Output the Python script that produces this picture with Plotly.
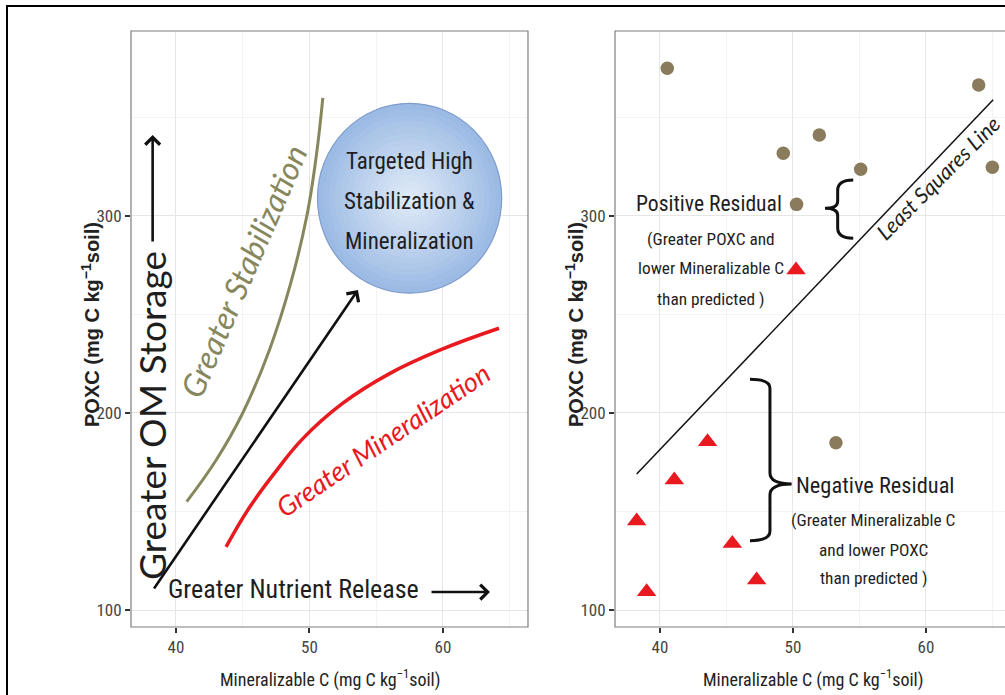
import plotly.graph_objects as go

W, H = 1005, 695

# ---------------- data ----------------
# Left panel: schematic curves
stab_x = [40.8, 43.0, 45.0, 47.0, 48.6, 49.8, 50.5, 51.0]
stab_y = [155, 176, 200, 232, 266, 300, 330, 360]
miner_x = [43.75, 45.5, 47.5, 49.5, 52.5, 56.0, 59.8, 64.2]
miner_y = [132, 152, 170.5, 187, 205, 220, 232, 243]

# Right panel: observations
pos_x = [40.55, 49.27, 51.98, 55.09, 50.27, 63.96, 64.99, 53.23]
pos_y = [375.0, 331.8, 341.1, 323.7, 305.9, 366.5, 324.7, 184.9]
neg_x = [50.23, 43.58, 41.08, 38.25, 45.44, 47.27, 39.0]
neg_y = [272.6, 185.4, 166.0, 145.2, 133.8, 115.2, 109.3]
ls_x = [38.25, 65.05]
ls_y = [169, 359]

x_ticks = [40, 50, 60]
y_ticks = [100, 200, 300]
x_title = "Mineralizable C (mg C kg<sup>\u22121</sup>soil)"
y_title = "POXC (mg C kg<sup>\u22121</sup>soil)"

# ---------------- styles ----------------
NARROW = "Liberation Sans Narrow, Arial Narrow, Roboto Condensed, DejaVu Sans Condensed, sans-serif"
HUMAN = "Lato, Open Sans, sans-serif"
SANS = "Liberation Sans, Arial, sans-serif"
OLIVE = "#87875e"
RED = "#e8191f"
BROWN = "#8a7b5c"
TXT = "#1e1e1e"


def px(p):
    return p / W


def py(p):
    return 1 - p / H


fig = go.Figure()

fig.add_trace(go.Scatter(x=stab_x, y=stab_y, mode="lines",
                         line=dict(color=OLIVE, width=3, shape="spline", smoothing=1.2),
                         xaxis="x", yaxis="y", hoverinfo="skip"))
fig.add_trace(go.Scatter(x=miner_x, y=miner_y, mode="lines",
                         line=dict(color=RED, width=3.5, shape="spline", smoothing=1.2),
                         xaxis="x", yaxis="y", hoverinfo="skip"))

fig.add_trace(go.Scatter(x=ls_x, y=ls_y, mode="lines", line=dict(color="#111", width=1.5),
                         xaxis="x2", yaxis="y2", hoverinfo="skip"))
fig.add_trace(go.Scatter(x=pos_x, y=pos_y, mode="markers",
                         marker=dict(symbol="circle", size=13.5, color=BROWN),
                         xaxis="x2", yaxis="y2"))
fig.add_trace(go.Scatter(x=neg_x, y=neg_y, mode="markers",
                         marker=dict(symbol="triangle-up", size=17, color=RED),
                         xaxis="x2", yaxis="y2"))

axis_common = dict(
    showgrid=True, gridcolor="#e6e6e6", gridwidth=1,
    minor=dict(showgrid=True, gridcolor="#f3f3f3", gridwidth=1),
    zeroline=False, showline=False,
    ticks="outside", ticklen=5, tickwidth=1.5, tickcolor="#333",
    tickfont=dict(family=NARROW, size=17, color="#444"),
)

fig.update_layout(
    width=W, height=H,
    margin=dict(l=0, r=0, t=0, b=0),
    paper_bgcolor="white", plot_bgcolor="white",
    showlegend=False,
    xaxis=dict(domain=[px(131), px(528)], range=[36.63, 66.37], anchor="y",
               tickvals=x_ticks, **axis_common),
    yaxis=dict(domain=[py(627), py(31)], range=[91.37, 393.9], anchor="x",
               tickvals=y_ticks, **axis_common),
    xaxis2=dict(domain=[px(615), 1.0], range=[36.62, 65.94], anchor="y2",
                tickvals=x_ticks, **axis_common),
    yaxis2=dict(domain=[py(627), py(31)], range=[91.37, 393.9], anchor="x2",
                tickvals=y_ticks, **axis_common),
)
fig.update_xaxes(minor=dict(dtick=5, tick0=0))
fig.update_yaxes(minor=dict(dtick=50, tick0=0))

shapes = []
# gradient circle (layers), drawn above the grid
cx, cy, rx, ry = 57.5, 309.0, 6.9, 48.2
edge = (155, 186, 228)
center = (222, 233, 247)
N = 16
for i in range(N):
    f = 1 - i / N
    t = (i / (N - 1)) ** 0.9
    col = tuple(int(edge[k] + (center[k] - edge[k]) * t) for k in range(3))
    shapes.append(dict(type="circle", xref="x", yref="y",
                       x0=cx - rx * f, x1=cx + rx * f, y0=cy - ry * f, y1=cy + ry * f,
                       fillcolor="rgb(%d,%d,%d)" % col,
                       line=dict(color="#7f9ccb" if i == 0 else "rgba(0,0,0,0)", width=1.2),
                       layer="above"))

# outer frame
shapes.append(dict(type="rect", xref="paper", yref="paper", x0=px(7), x1=1.03, y0=-0.03, y1=py(6),
                   line=dict(color="black", width=2), layer="above"))
# panel borders
shapes.append(dict(type="rect", xref="paper", yref="paper", x0=px(131), x1=px(528), y0=py(627), y1=py(31),
                   line=dict(color="#7f7f7f", width=1.2), layer="above"))
shapes.append(dict(type="rect", xref="paper", yref="paper", x0=px(615), x1=px(1012), y0=py(627), y1=py(31),
                   line=dict(color="#7f7f7f", width=1.2), layer="above"))

# braces
shapes.append(dict(type="path", xref="x2", yref="y2",
                   path="M 54.53 318.3 Q 53.36 318.3 53.36 313 L 53.36 307.5 Q 53.36 303.9 52.41 303.9 "
                        "Q 53.36 303.9 53.36 300.3 L 53.36 294 Q 53.36 288.7 54.53 288.7",
                   line=dict(color="#111", width=3)))
shapes.append(dict(type="path", xref="x2", yref="y2",
                   path="M 46.77 217.1 Q 48.27 217.1 48.27 212.5 L 48.27 169.5 Q 48.27 164 49.9 164 "
                        "Q 48.27 164 48.27 158.4 L 48.27 140 Q 48.27 135.2 46.77 135.2",
                   line=dict(color="#111", width=3)))
fig.update_layout(shapes=shapes)

ann = []


def txt(x, y, text, size, family=NARROW, color=TXT, angle=0, xref="x", yref="y"):
    ann.append(dict(x=x, y=y, xref=xref, yref=yref, text=text, showarrow=False,
                    font=dict(family=family, size=size, color=color), textangle=angle,
                    xanchor="center", yanchor="middle"))


def arrow(x0, y0, x1, y1, xref="x", yref="y"):
    ann.append(dict(x=x1, y=y1, ax=x0, ay=y0, xref=xref, yref=yref, axref=xref, ayref=yref,
                    text="", showarrow=True, arrowhead=4, arrowsize=1.1, arrowwidth=2.6,
                    arrowcolor="#111"))


# left panel annotations
txt(57.5, 327.9, "Targeted High", 23)
txt(57.5, 307.6, "Stabilization &", 23)
txt(57.5, 287.3, "Mineralization", 23)
txt(48.84, 110.7, "Greater Nutrient Release", 26)
txt(38.2, 199, "Greater OM Storage", 37, family=HUMAN, angle=-90)
txt(45.06, 272.1, "<i>Greater Stabilization</i>", 32, family=HUMAN, color=OLIVE, angle=-66.7)
txt(55.5, 186.8, "<i>Greater Mineralization</i>", 27, family=HUMAN, color=RED, angle=-34)
arrow(59.03, 109.1, 63.52, 109.1)
arrow(38.28, 110.2, 53.63, 262.4)
arrow(38.25, 286.3, 38.25, 341.1)

# right panel annotations
txt(43.68, 306.1, "Positive Residual", 21.6, xref="x2", yref="y2")
txt(43.83, 288.3, "(Greater POXC and", 17.3, xref="x2", yref="y2")
txt(43.83, 273.6, "lower Mineralizable C", 17.3, xref="x2", yref="y2")
txt(43.83, 257.9, "than predicted )", 17.3, xref="x2", yref="y2")
txt(56.17, 163.5, "Negative Residual", 22.4, xref="x2", yref="y2")
txt(56.09, 145.7, "(Greater Mineralizable C", 17.3, xref="x2", yref="y2")
txt(56.09, 130.5, "and lower POXC", 17.3, xref="x2", yref="y2")
txt(56.09, 116.2, "than predicted )", 17.3, xref="x2", yref="y2")
txt(60.9, 319.5, "<i>Least Squares Line</i>", 21.5, family=HUMAN, angle=-45, xref="x2", yref="y2")

# axis titles
txt(px(329.5), py(678), x_title, 18, color="#222", xref="paper", yref="paper")
txt(px(813), py(678), x_title, 18, color="#222", xref="paper", yref="paper")
txt(px(90), py(325), "<b>" + y_title + "</b>", 20, family=SANS, color="#222", angle=-90,
    xref="paper", yref="paper")
txt(px(574), py(325), "<b>" + y_title + "</b>", 20, family=SANS, color="#222", angle=-90,
    xref="paper", yref="paper")

fig.update_layout(annotations=ann)

fig.write_html("out.html")
